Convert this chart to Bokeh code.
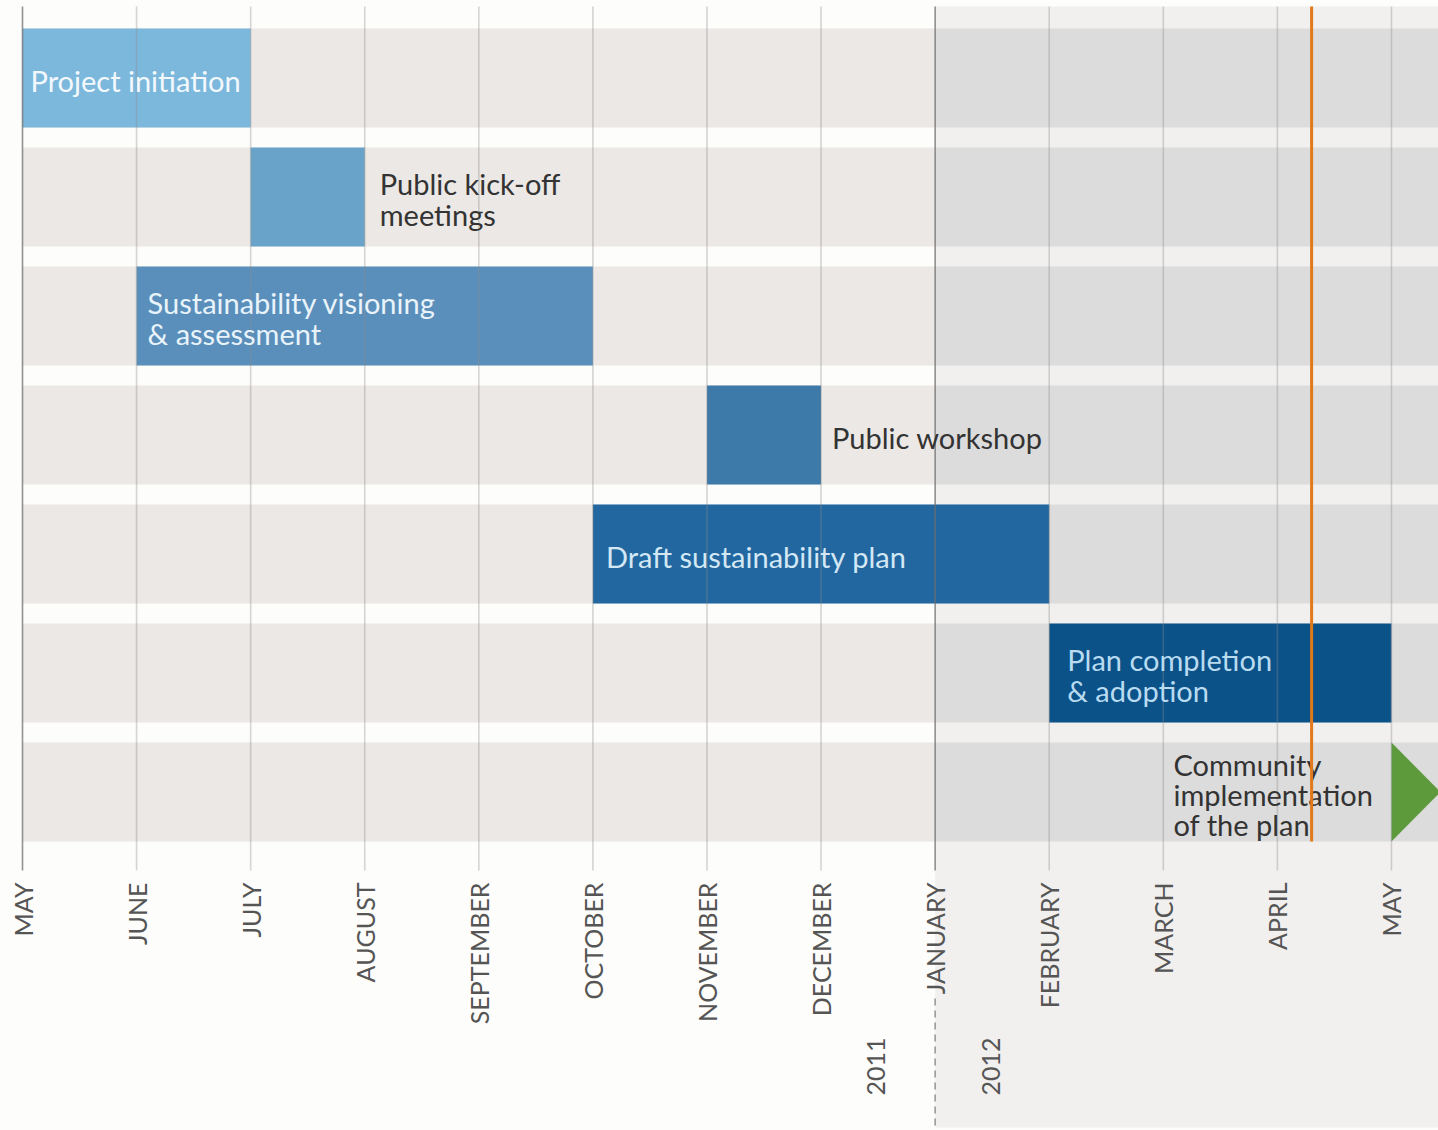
import math
from bokeh.plotting import figure
from bokeh.models import Range1d
from bokeh.core.properties import value
from bokeh.embed import file_html
from bokeh.resources import INLINE

# ---------------- data ----------------
months = ["MAY", "JUNE", "JULY", "AUGUST", "SEPTEMBER", "OCTOBER", "NOVEMBER",
          "DECEMBER", "JANUARY", "FEBRUARY", "MARCH", "APRIL", "MAY"]
month_pos = list(range(13))          # months since May 2011
years = ["2011", "2012"]
year_boundary = 8                    # January 2012

tasks = ["Project initiation",
         "Public kick-off\nmeetings",
         "Sustainability visioning\n& assessment",
         "Public workshop",
         "Draft sustainability plan",
         "Plan completion\n& adoption"]
task_start = [0, 2, 1, 6, 5, 9]
task_end = [2, 3, 5, 7, 9, 12]
task_row = [0, 1, 2, 3, 4, 5]
label_inside = [True, False, True, False, True, True]

ongoing_task = "Community\nimplementation\nof the plan"
ongoing_start = 12
ongoing_row = 6
n_rows = 7

today = 11.3                         # current-date marker (early April 2012)

# ---------------- styles ----------------
bar_colors = ["#7cb8dc", "#6aa3c9", "#5a8fbb", "#3e7aa9", "#22679f", "#0b5289"]
inside_text_colors = ["#f3f8fc", None, "#e9f3fa", None, "#d3e7f5", "#b9dbf0"]
label_pad = [8, 15, 11, 11, 13, 18]
arrow_color = "#5d9a3c"
FONT = value("Lato")
LABEL_SIZE = "29px"

W, H = 1438, 1130
PXM = 114.08          # pixels per month
X0 = 22               # canvas px of month 0
ROW = 119             # pixels per row
Y0 = 77.5             # canvas px of row-0 centre
half = 49.5 / ROW

def ypx(px):
    return (px - Y0) / ROW

x_end = (W - X0) / PXM
p = figure(width=W, height=H,
           x_range=Range1d(-X0 / PXM, x_end),
           y_range=Range1d(ypx(H), ypx(0)),
           output_backend="svg", toolbar_location=None,
           x_axis_location=None, y_axis_location=None,
           min_border=0, outline_line_color=None,
           background_fill_color="#fdfdfb", border_fill_color="#fdfdfb")
p.grid.visible = False

# 2012 background
p.quad(left=[year_boundary], right=[x_end + 1], top=[ypx(6)], bottom=[ypx(1127)],
       color="#f1f0ee", line_color=None)

# row bands
rows = list(range(n_rows))
p.quad(left=[0] * n_rows, right=[year_boundary] * n_rows,
       top=[r - half for r in rows], bottom=[r + half for r in rows],
       color="#ebe8e5", line_color=None)
p.quad(left=[year_boundary] * n_rows, right=[x_end + 1] * n_rows,
       top=[r - half for r in rows], bottom=[r + half for r in rows],
       color="#dcdcdc", line_color=None)

# task bars
p.quad(left=task_start, right=task_end,
       top=[r - half for r in task_row], bottom=[r + half for r in task_row],
       color=bar_colors, line_color=None)

# ongoing arrow
p.patch(x=[ongoing_start, ongoing_start, ongoing_start + 0.43],
        y=[ongoing_row - half, ongoing_row + half, ongoing_row],
        color=arrow_color, line_color=None)

# month grid lines (drawn over bars)
grid_colors = ["#6f6f6f" if m in (0, year_boundary) else "#8a8a8a" for m in month_pos]
grid_alpha = [0.75 if m in (0, year_boundary) else 0.35 for m in month_pos]
p.segment(x0=month_pos, y0=[ypx(6)] * 13, x1=month_pos, y1=[ypx(870)] * 13,
          line_color=grid_colors, line_alpha=grid_alpha, line_width=1.6)

# year divider (dashed)
p.segment(x0=[year_boundary], y0=[ypx(998)], x1=[year_boundary], y1=[ypx(1125)],
          line_color="#9a9a9a", line_width=1.6, line_dash="7 5")

# task labels
for i, t in enumerate(tasks):
    if label_inside[i]:
        p.text(x=[task_start[i]], y=[task_row[i] + 0.02], text=[t],
               x_offset=label_pad[i], text_color=inside_text_colors[i],
               text_font=FONT, text_font_size=LABEL_SIZE,
               text_align="left", text_baseline="middle", text_line_height=0.88)
    else:
        p.text(x=[task_end[i]], y=[task_row[i] + 0.02], text=[t],
               x_offset=label_pad[i], text_color="#333333",
               text_font=FONT, text_font_size=LABEL_SIZE,
               text_align="left", text_baseline="middle", text_line_height=0.88)

p.text(x=[ongoing_start], y=[ongoing_row + 0.02], text=[ongoing_task],
       x_offset=-218, text_color="#333333", text_font=FONT, text_font_size=LABEL_SIZE,
       text_align="left", text_baseline="middle", text_line_height=0.86)

# month labels (rotated)
p.text(x=month_pos, y=[ypx(882)] * 13, text=months, angle=math.pi / 2,
       text_align="right", text_baseline="middle", text_color="#555555",
       text_font=FONT, text_font_size="25px")

# year labels
p.text(x=[year_boundary - 0.52, year_boundary + 0.49], y=[ypx(1066)] * 2, text=years,
       angle=math.pi / 2, text_align="center", text_baseline="middle",
       text_color="#555555", text_font=FONT, text_font_size="25px")

# today marker
p.segment(x0=[today], y0=[ypx(6)], x1=[today], y1=[ypx(841)],
          line_color="#e2791b", line_width=3)

open("out.html", "w").write(file_html(p, INLINE))
